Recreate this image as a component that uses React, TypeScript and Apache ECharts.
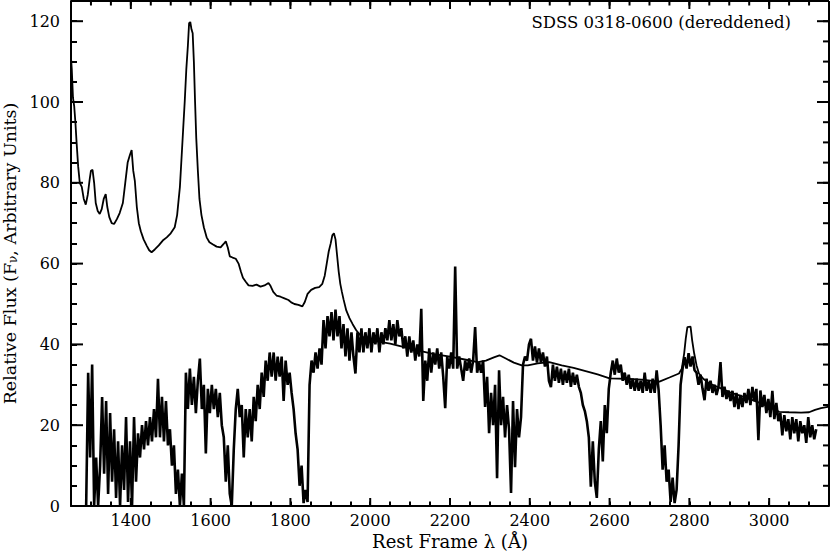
import React, { useEffect, useRef } from "react";
import * as echarts from "echarts";

const TITLE = "SDSS 0318-0600 (dereddened)";
const X_NAME = "Rest Frame λ (Å)";
const Y_NAME = "Relative Flux (F{sub|ν}, Arbitrary Units)";
const X_MIN = 1250;
const X_MAX = 3150;
const Y_MIN = 0;
const Y_MAX = 125;
const X_MAJOR_STEP = 200;
const X_MINOR_STEP = 50;
const Y_MAJOR_STEP = 20;
const Y_MINOR_STEP = 5;

// Composite (template) spectrum, [wavelength, flux]
const COMPOSITE: [number, number][] = [
  [1250, 111], [1252, 108], [1255, 101], [1258, 99], [1261, 95], [1264, 90], [1268, 84], [1272, 80],
  [1277, 79], [1282, 76], [1287, 74.6], [1292, 77], [1297, 81], [1300, 83], [1304, 83.2], [1308, 80],
  [1312, 75], [1317, 73], [1322, 72.3], [1327, 73.5], [1332, 76], [1337, 77.2], [1341, 74], [1346, 71.5],
  [1352, 70], [1358, 69.8], [1365, 71], [1372, 72.5], [1380, 75], [1386, 80], [1392, 85], [1398, 87],
  [1402, 88.1], [1406, 83], [1410, 80.5], [1415, 74], [1420, 70], [1425, 68], [1432, 66], [1440, 64.4],
  [1446, 63.3], [1452, 62.8], [1460, 63.5], [1470, 64.5], [1480, 65.7], [1490, 66.5], [1500, 67.5],
  [1510, 69], [1516, 72], [1520, 76], [1523, 79], [1527, 86], [1531, 93], [1535, 100], [1539, 108],
  [1543, 114], [1546, 119.5], [1549, 119.8], [1552, 118], [1555, 117], [1558, 110], [1561, 100],
  [1564, 91], [1568, 83], [1572, 76], [1577, 72], [1583, 69], [1590, 66.5], [1597, 65.3], [1605, 64.8],
  [1615, 64.2], [1625, 64], [1632, 64.8], [1638, 65.5], [1643, 64], [1648, 61.8], [1655, 61.5],
  [1663, 61.2], [1670, 60], [1676, 58], [1681, 56.5], [1688, 55.5], [1695, 54.6], [1705, 54.5],
  [1715, 54.8], [1725, 54.3], [1735, 54.6], [1745, 55.2], [1750, 54.5], [1757, 53], [1765, 52.1],
  [1775, 51.8], [1785, 51.4], [1795, 51], [1802, 50.4], [1810, 50], [1820, 49.8], [1830, 49.4],
  [1836, 50.5], [1843, 52.5], [1852, 53.5], [1862, 54], [1872, 54.2], [1880, 55], [1886, 57],
  [1891, 60], [1896, 63], [1901, 65], [1905, 67], [1909, 67.5], [1913, 66], [1917, 62], [1921, 58],
  [1925, 55], [1929, 53], [1933, 51.2], [1940, 48.4], [1948, 46.5], [1956, 45], [1965, 43.5],
  [1975, 42.3], [1985, 41.6], [2000, 41], [2025, 40.6], [2050, 40.2], [2075, 39.6], [2100, 39],
  [2130, 38.3], [2160, 37.6], [2200, 37], [2240, 36.2], [2270, 35.6], [2290, 36], [2310, 36.8],
  [2324, 37.3], [2340, 36.5], [2360, 35.5], [2380, 34.8], [2395, 34.8], [2420, 35.3], [2449, 35.6],
  [2480, 34.8], [2510, 34.2], [2540, 33.4], [2570, 32.6], [2600, 31.6], [2640, 31.5], [2680, 31.3],
  [2725, 30.8], [2750, 31.8], [2774, 32.8], [2781, 34], [2787, 37.8], [2791, 41.5], [2795, 44.3],
  [2803, 44.4], [2807, 41], [2812, 37.8], [2818, 34.8], [2824, 32.8], [2835, 31.5], [2850, 30.3],
  [2875, 29.3], [2900, 28.2], [2925, 27.4], [2950, 26.5], [2975, 25.6], [3000, 24.5], [3015, 23.8],
  [3025, 23.3], [3050, 23.2], [3080, 23.1], [3100, 23.2], [3115, 23.8], [3130, 24.2], [3150, 24.6],
];

// Observed quasar spectrum, [wavelength, flux]
const OBSERVED: [number, number][] = [
  [1288, 0], [1293, 33], [1298, 12], [1303, 35], [1308, 0], [1313, 12], [1318, 0], [1323, 10],
  [1328, 27], [1333, 8], [1338, 26], [1343, 3], [1348, 23], [1353, 6], [1358, 19], [1363, 2],
  [1368, 16], [1373, 0], [1378, 15], [1383, 4], [1388, 22], [1393, 1], [1398, 16], [1403, 0],
  [1408, 22], [1413, 6], [1418, 18], [1423, 12], [1428, 20], [1433, 14], [1438, 21], [1443, 15],
  [1448, 22], [1453, 16], [1458, 24], [1463, 17], [1468, 31.5], [1473, 17], [1478, 27], [1483, 16],
  [1488, 26], [1493, 15], [1498, 19], [1503, 10], [1508, 15], [1513, 3], [1518, 9], [1523, 0],
  [1528, 8], [1533, 0], [1538, 33], [1543, 24], [1548, 34], [1553, 25], [1558, 32], [1563, 23],
  [1568, 31], [1573, 36.5], [1578, 24], [1583, 30], [1588, 13], [1593, 29], [1598, 23], [1603, 30],
  [1608, 24], [1613, 29], [1618, 22], [1623, 28], [1628, 20], [1633, 17], [1638, 6], [1643, 15],
  [1648, 3], [1653, 0], [1658, 14], [1663, 24], [1668, 29], [1673, 22], [1678, 25], [1683, 12],
  [1688, 24], [1693, 17], [1698, 24], [1703, 16], [1708, 27], [1713, 21], [1718, 30], [1723, 24],
  [1728, 33], [1733, 27], [1738, 36], [1743, 31], [1748, 38], [1753, 32], [1758, 38], [1763, 31],
  [1768, 37], [1773, 32], [1778, 37], [1783, 26], [1788, 36], [1793, 30], [1798, 33], [1803, 28],
  [1808, 24], [1813, 18], [1818, 14], [1823, 5], [1828, 10], [1833, 0.7], [1838, 4], [1843, 1],
  [1848, 30], [1853, 36], [1858, 33], [1863, 38], [1868, 34], [1873, 39], [1878, 35], [1883, 46],
  [1888, 39], [1893, 47], [1898, 42], [1903, 48], [1908, 41], [1913, 48.6], [1918, 42], [1923, 47],
  [1928, 39], [1933, 45], [1938, 37], [1943, 44], [1948, 36], [1953, 43], [1958, 37], [1963, 32.8],
  [1968, 43], [1973, 38], [1978, 44], [1983, 38], [1988, 43], [1993, 39], [1998, 44], [2003, 38],
  [2008, 43], [2013, 40], [2018, 44], [2023, 38], [2028, 43], [2033, 40], [2038, 44], [2043, 41],
  [2048, 46], [2053, 41], [2058, 45], [2063, 40], [2068, 46], [2073, 42], [2078, 44], [2083, 39],
  [2088, 42], [2093, 37], [2098, 42], [2103, 38], [2108, 41], [2113, 36], [2118, 40], [2123, 37],
  [2128, 48.8], [2133, 26], [2138, 36], [2143, 31], [2148, 39], [2153, 33], [2158, 38], [2163, 35],
  [2168, 39], [2173, 34], [2178, 38], [2183, 32], [2188, 24.2], [2193, 37], [2198, 34], [2203, 38],
  [2208, 34], [2213, 59.3], [2218, 34], [2223, 37], [2228, 34], [2233, 31], [2238, 36], [2243, 33.5],
  [2248, 36.5], [2253, 33], [2258, 36], [2263, 44.3], [2268, 33], [2273, 35.5], [2278, 33], [2283, 36],
  [2288, 24.5], [2293, 32], [2298, 18], [2303, 28], [2308, 20], [2313, 30], [2318, 6.9], [2323, 33.6],
  [2328, 20], [2333, 27], [2338, 17], [2343, 25], [2348, 19], [2353, 3.2], [2358, 26], [2363, 9.6],
  [2368, 24], [2373, 17], [2378, 22], [2383, 35], [2388, 37], [2393, 36], [2398, 40], [2403, 41.4],
  [2408, 36], [2413, 39.5], [2418, 35.5], [2423, 39], [2428, 35.5], [2433, 38], [2438, 34.5], [2443, 37],
  [2448, 31], [2453, 29.4], [2458, 35], [2463, 31], [2468, 34.5], [2473, 30.5], [2478, 34], [2483, 30],
  [2488, 33.5], [2493, 30.5], [2498, 34], [2503, 29.5], [2508, 33], [2513, 30], [2518, 32.5], [2523, 29.5],
  [2528, 28], [2533, 25], [2538, 23.5], [2543, 21], [2548, 17], [2553, 4.8], [2558, 16], [2563, 6],
  [2568, 2], [2573, 14], [2578, 21], [2583, 11], [2588, 25], [2593, 18], [2598, 29], [2603, 33],
  [2608, 36], [2613, 32.5], [2618, 36.5], [2623, 33], [2628, 35], [2633, 31], [2638, 33], [2643, 30],
  [2648, 32.5], [2653, 29], [2658, 31.5], [2663, 28.5], [2668, 31.5], [2673, 28.5], [2678, 31], [2683, 28],
  [2688, 33], [2693, 28.5], [2698, 31], [2703, 28], [2708, 31.5], [2713, 28], [2718, 33.6], [2723, 28.6],
  [2728, 20], [2733, 9], [2738, 15], [2743, 6], [2748, 9], [2753, 1], [2758, 7], [2763, 0.7],
  [2768, 4], [2773, 15], [2778, 30], [2783, 34], [2788, 36.8], [2793, 34], [2798, 37.8], [2803, 34.5],
  [2808, 37], [2813, 33.6], [2818, 33], [2823, 30], [2828, 32.5], [2833, 29], [2838, 26.2], [2843, 31.5],
  [2848, 28.5], [2853, 31], [2858, 28], [2863, 30], [2868, 27.5], [2873, 29.5], [2878, 35.6], [2883, 27],
  [2888, 29.5], [2893, 26.5], [2898, 28.6], [2903, 26], [2908, 28.5], [2913, 24.5], [2918, 28], [2923, 24],
  [2928, 27.5], [2933, 24.5], [2938, 28], [2943, 25.5], [2948, 29], [2953, 25], [2958, 29.5], [2963, 26],
  [2968, 29], [2973, 16.3], [2978, 28.6], [2983, 24.5], [2988, 27.5], [2993, 23], [2998, 26.5], [3003, 22],
  [3008, 28.5], [3013, 21.5], [3018, 25.5], [3023, 21], [3028, 23], [3033, 17.5], [3038, 22.5], [3043, 18.5],
  [3048, 21.5], [3053, 16.5], [3058, 22], [3063, 18], [3068, 21.5], [3073, 16], [3078, 21], [3083, 18],
  [3088, 20], [3093, 15.6], [3098, 22], [3103, 17], [3108, 20], [3113, 16.5], [3118, 19],
];

const FONT = "DejaVu Serif";
const BLACK = "#000";

function tickValues(min: number, max: number, step: number): number[] {
  const out: number[] = [];
  for (let v = Math.ceil(min / step) * step; v <= max; v += step) out.push(v);
  return out;
}

export default function App() {
  const ref = useRef<HTMLDivElement>(null);

  useEffect(() => {
    if (!ref.current) return;
    const chart = echarts.init(ref.current, null, { renderer: "svg" });

    chart.setOption({
      animation: false,
      title: {
        text: TITLE,
        right: 34,
        top: 9,
        textStyle: { fontFamily: FONT, fontSize: 16.5, fontWeight: "normal", color: BLACK },
      },
      grid: { left: 71, right: 1, top: 1, bottom: 48, outerBoundsMode: "none" },
      xAxis: {
        type: "value",
        min: X_MIN,
        max: X_MAX,
        interval: X_MINOR_STEP,
        splitLine: { show: false },
        axisLine: { show: true, onZero: false, lineStyle: { color: BLACK, width: 2 } },
        axisTick: { show: true, inside: true, length: 4.5, lineStyle: { color: BLACK, width: 2 } },
        axisLabel: {
          margin: 6,
          fontFamily: FONT,
          fontSize: 16,
          color: BLACK,
          formatter: (v: number) => (v % X_MAJOR_STEP === 0 ? String(v) : ""),
        },
        name: X_NAME,
        nameLocation: "middle",
        nameGap: 26,
        nameTextStyle: { fontFamily: FONT, fontSize: 18, color: BLACK },
      },
      yAxis: {
        type: "value",
        min: Y_MIN,
        max: Y_MAX,
        interval: Y_MINOR_STEP,
        splitLine: { show: false },
        axisLine: { show: true, onZero: false, lineStyle: { color: BLACK, width: 2 } },
        axisTick: { show: true, inside: true, length: 6, lineStyle: { color: BLACK, width: 2 } },
        axisLabel: {
          margin: 11,
          fontFamily: FONT,
          fontSize: 16,
          color: BLACK,
          formatter: (v: number) => (v % Y_MAJOR_STEP === 0 ? String(v) : ""),
        },
        name: Y_NAME,
        nameLocation: "middle",
        nameGap: 45,
        nameTextStyle: {
          fontFamily: FONT,
          fontSize: 17.5,
          color: BLACK,
          rich: {
            sub: { fontFamily: FONT, fontSize: 12, color: BLACK, padding: [6, 0, 0, 0] },
          },
        },
      },
      series: [
        {
          name: "Composite",
          type: "line",
          data: COMPOSITE,
          showSymbol: false,
          symbol: "none",
          lineStyle: { color: BLACK, width: 1.8 },
        },
        {
          name: "SDSS 0318-0600",
          type: "line",
          data: OBSERVED,
          showSymbol: false,
          symbol: "none",
          lineStyle: { color: BLACK, width: 2.6 },
        },
      ],
    });

    // Top and right frame lines plus all major ticks and the top/right minor
    // ticks, positioned through the axes' own scales.
    const toPx = (x: number, y: number) =>
      chart.convertToPixel({ gridIndex: 0 }, [x, y]) as number[];
    const els: any[] = [];
    const seg = (x1: number, y1: number, x2: number, y2: number) => {
      els.push({
        type: "line",
        shape: { x1, y1, x2, y2 },
        style: { stroke: "#000000", lineWidth: 2 },
      });
    };
    const tl = toPx(X_MIN, Y_MAX);
    const tr = toPx(X_MAX, Y_MAX);
    const br = toPx(X_MAX, Y_MIN);
    seg(tl[0], tl[1], tr[0], tr[1]);
    seg(tr[0], tr[1], br[0], br[1]);

    tickValues(X_MIN, X_MAX, X_MINOR_STEP).forEach((v) => {
      const t = toPx(v, Y_MAX);
      seg(t[0], t[1], t[0], t[1] + 4.5);
    });
    tickValues(X_MIN, X_MAX, X_MAJOR_STEP).forEach((v) => {
      const b = toPx(v, Y_MIN);
      const t = toPx(v, Y_MAX);
      seg(b[0], b[1], b[0], b[1] - 8);
      seg(t[0], t[1], t[0], t[1] + 8);
    });
    tickValues(Y_MIN, Y_MAX, Y_MINOR_STEP).forEach((v) => {
      const r = toPx(X_MAX, v);
      seg(r[0], r[1], r[0] - 6, r[1]);
    });
    tickValues(Y_MIN, Y_MAX, Y_MAJOR_STEP).forEach((v) => {
      const l = toPx(X_MIN, v);
      const r = toPx(X_MAX, v);
      seg(l[0], l[1], l[0] + 12, l[1]);
      seg(r[0], r[1], r[0] - 12, r[1]);
    });
    chart.setOption({ graphic: { elements: els } });

    return () => chart.dispose();
  }, []);

  return <div ref={ref} style={{ position: "absolute", left: 0, top: 0, width: 830, height: 554 }} />;
}
